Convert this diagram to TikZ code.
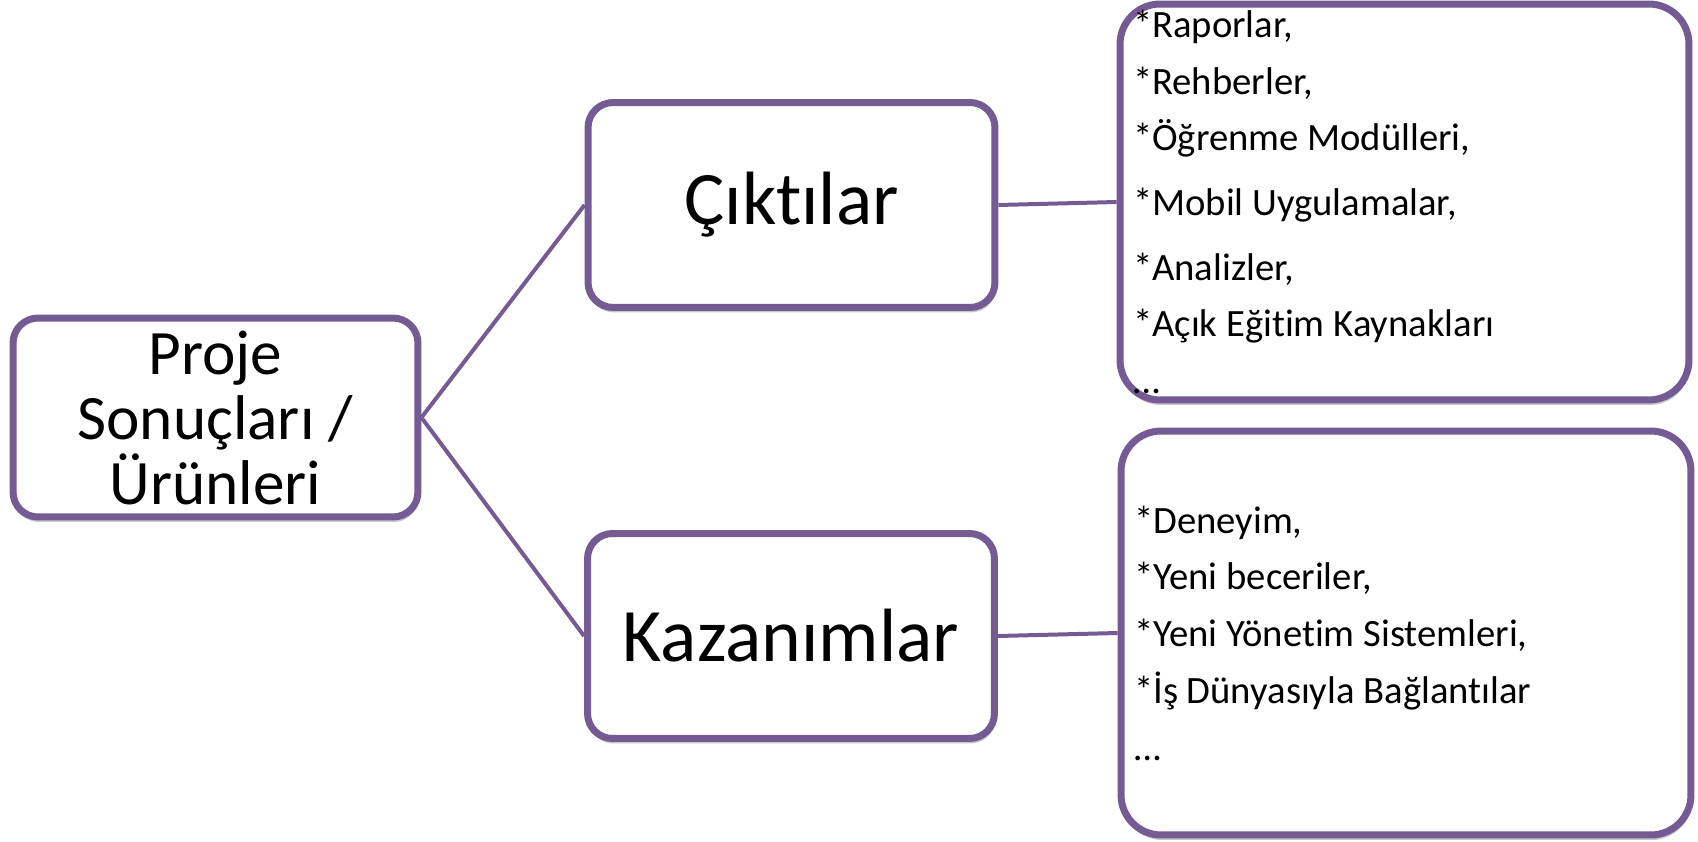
\documentclass[tikz,border=0pt]{standalone}
\usepackage{fontspec}
\setmainfont{Carlito}[Ligatures=NoCommon]
\usetikzlibrary{shadows, positioning}
\definecolor{sonucPurple}{RGB}{117,91,147}
\tikzset{
    mainBox/.style={rectangle, draw=sonucPurple, line width=0.14cm, fill=white, rounded corners=0.5cm, inner sep=0pt, align=flush center,
        drop shadow={opacity=0.22, shadow xshift=0.02cm, shadow yshift=-0.1cm, fill=black}},
    listBox/.style={mainBox, rounded corners=0.8cm, align=flush left, inner xsep=0.26cm, inner ysep=0pt},
    branchEdge/.style={draw=sonucPurple, line width=0.08cm},
}
\newcommand{\drawBranch}[2]{
    \draw[branchEdge] (#1) -- (#2);
}

\begin{document}
\begin{tikzpicture}[x=0.02cm, y=-0.02cm]
    \useasboundingbox (0,0) rectangle (1698,842);

    \node[mainBox, minimum width=8.1cm, minimum height=3.98cm, font=\fontsize{36}{37}\selectfont] (proje) at (215.5,417.5) {Proje\\Sonuçları /\\Ürünleri};

    \node[mainBox, minimum width=8.14cm, minimum height=4.1cm, font=\fontsize{43}{49}\selectfont] (cikti) at (791.5,205) {Çıktılar};
    \node[mainBox, minimum width=8.14cm, minimum height=4.1cm, font=\fontsize{43}{49}\selectfont] (kazanim) at (791,636) {Kazanımlar};

    \node[listBox, text width=10.86cm, minimum height=7.92cm, font=\fontsize{22}{32.3}\selectfont] (ciktiList) at (1404.5,202)
        {*Raporlar,\\{*}Rehberler,\\{*}Öğrenme Modülleri,\\[4.5pt]{*}Mobil Uygulamalar,\\[4.5pt]{*}Analizler,\\{*}Açık Eğitim Kaynakları\\…};
    \node[listBox, text width=10.88cm, minimum height=8.08cm, font=\fontsize{22}{32.3}\selectfont] (kazanimList) at (1406,633)
        {*Deneyim,\\{*}Yeni beceriler,\\{*}Yeni Yönetim Sistemleri,\\{*}İş Dünyasıyla Bağlantılar\\…};

    \drawBranch{proje.east}{cikti.west}
    \drawBranch{proje.east}{kazanim.west}
    \drawBranch{cikti.east}{ciktiList.west}
    \drawBranch{kazanim.east}{kazanimList.west}

\end{tikzpicture}
\end{document}
